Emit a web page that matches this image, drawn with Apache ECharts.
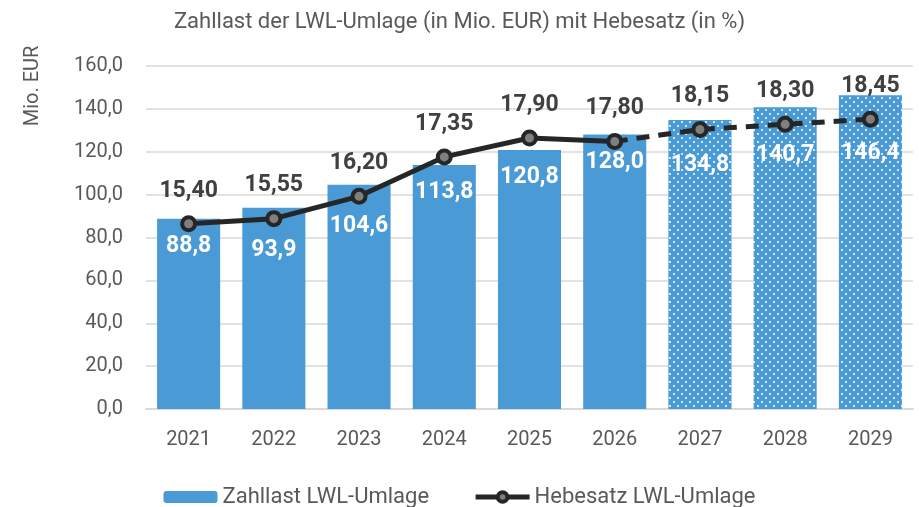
<!DOCTYPE html>
<html style="height: 100%">
<head>
    <meta charset="UTF-8" />
    <title>Zahllast LWL-Umlage</title>
    <script src="https://cdn.jsdelivr.net/npm/echarts@6/dist/echarts.min.js"></script>
</head>
<body style="margin:0;height:100%">
    <div id="main" style="width:919px;height:507px;"></div>
    <script>
        // Daten
        var years = ['2021','2022','2023','2024','2025','2026','2027','2028','2029'];
        var zahllast = [88.8, 93.9, 104.6, 113.8, 120.8, 128.0, 134.8, 140.7, 146.4];
        var hebesatz = [15.40, 15.55, 16.20, 17.35, 17.90, 17.80, 18.15, 18.30, 18.45];
        var firstPlanIdx = 6; // ab 2027 Planwerte (gepunktet / gestrichelt)

        // zusaetzliche Verschiebung der Balkenbeschriftung nach unten (px), damit sie nicht unter der Linie liegt
        var labelShift = [0, 15, 14, 0, 0, 0, 18, 20, 31];

        var blue = '#4a9ad6';
        var grey = '#595959';
        var font = 'Roboto, "Noto Sans", sans-serif';

        // Punktmuster fuer Planjahre
        var pat = document.createElement('canvas');
        pat.width = 8; pat.height = 8;
        var ctx = pat.getContext('2d');
        ctx.fillStyle = blue;
        ctx.fillRect(0, 0, 8, 8);
        ctx.fillStyle = '#ffffff';
        ctx.beginPath(); ctx.arc(2, 2, 1, 0, Math.PI * 2); ctx.fill();
        ctx.beginPath(); ctx.arc(6, 6, 1, 0, Math.PI * 2); ctx.fill();

        var barData = zahllast.map(function (v, i) {
            var item = { value: v, label: { distance: 16 + labelShift[i] } };
            if (i >= firstPlanIdx) item.itemStyle = { color: { image: pat, repeat: 'repeat' } };
            return item;
        });
        var solidData = hebesatz.map(function (v, i) { return i < firstPlanIdx ? v : '-'; });
        var dashData = hebesatz.map(function (v, i) {
            if (i < firstPlanIdx - 1) return '-';
            if (i === firstPlanIdx - 1) return { value: v, symbol: 'none', label: { show: false } };
            return v;
        });

        function comma(v, d) { return Number(v).toFixed(d).replace('.', ','); }

        var lineLabel = {
            show: true, position: 'top', distance: 13,
            fontSize: 23, fontWeight: 'bold', color: '#404040', fontFamily: font,
            formatter: function (p) { return comma(p.value, 2); }
        };
        var lineItem = { color: '#7f7f7f', borderColor: '#262626', borderWidth: 4 };

        var app = echarts.init(document.getElementById('main'));
        var option = {
            animation: false,
            textStyle: { fontFamily: font },
            title: {
                text: 'Zahllast der LWL-Umlage (in Mio. EUR) mit Hebesatz (in %)',
                left: 'center', top: 6,
                textStyle: { fontSize: 22, fontWeight: 'normal', color: grey, fontFamily: font }
            },
            graphic: [{
                type: 'text', x: 33, y: 86, rotation: Math.PI / 2,
                style: { text: 'Mio. EUR', align: 'center', verticalAlign: 'middle',
                         fontSize: 20, fill: grey, fontFamily: font }
            }],
            legend: {
                top: 481, left: 'center', itemGap: 44, itemWidth: 54, itemHeight: 12,
                data: [
                    'Zahllast LWL-Umlage',
                    { name: 'Hebesatz LWL-Umlage',
                      lineStyle: { width: 5, color: '#262626' },
                      itemStyle: { color: '#7f7f7f', borderColor: '#262626', borderWidth: 4 } }
                ],
                textStyle: { fontSize: 22, color: grey, fontFamily: font }
            },
            grid: { left: 146, right: 6, top: 66, bottom: 98 },
            xAxis: {
                type: 'category', data: years,
                axisLine: { lineStyle: { color: '#d9d9d9', width: 2 } },
                axisTick: { show: false },
                axisLabel: { fontSize: 20, color: grey, margin: 21 }
            },
            yAxis: [
                {
                    type: 'value', min: 0, max: 160, interval: 20,
                    axisLine: { show: false }, axisTick: { show: false },
                    splitLine: { lineStyle: { color: '#d9d9d9', width: 1.5 } },
                    axisLabel: { fontSize: 20, color: grey, margin: 23,
                                 formatter: function (v) { return comma(v, 1); } }
                },
                { type: 'value', min: 10, max: 20, show: false, splitLine: { show: false } }
            ],
            series: [
                {
                    name: 'Zahllast LWL-Umlage', type: 'bar', data: barData,
                    barCategoryGap: '26%',
                    itemStyle: { color: blue },
                    label: {
                        show: true, position: 'insideTop', distance: 16,
                        fontSize: 23, fontWeight: 'bold', color: '#ffffff', fontFamily: font,
                        formatter: function (p) { return comma(p.value, 1); }
                    }
                },
                {
                    name: 'Hebesatz LWL-Umlage', type: 'line', yAxisIndex: 1, data: solidData,
                    symbol: 'circle', symbolSize: 13, z: 5,
                    lineStyle: { color: '#262626', width: 5 },
                    itemStyle: lineItem,
                    label: lineLabel
                },
                {
                    name: 'Hebesatz Plan', type: 'line', yAxisIndex: 1, data: dashData,
                    symbol: 'circle', symbolSize: 13, z: 5,
                    lineStyle: { color: '#262626', width: 5, type: [13, 9] },
                    itemStyle: lineItem,
                    label: lineLabel
                }
            ]
        };
        app.setOption(option);
    </script>
</body>
</html>
